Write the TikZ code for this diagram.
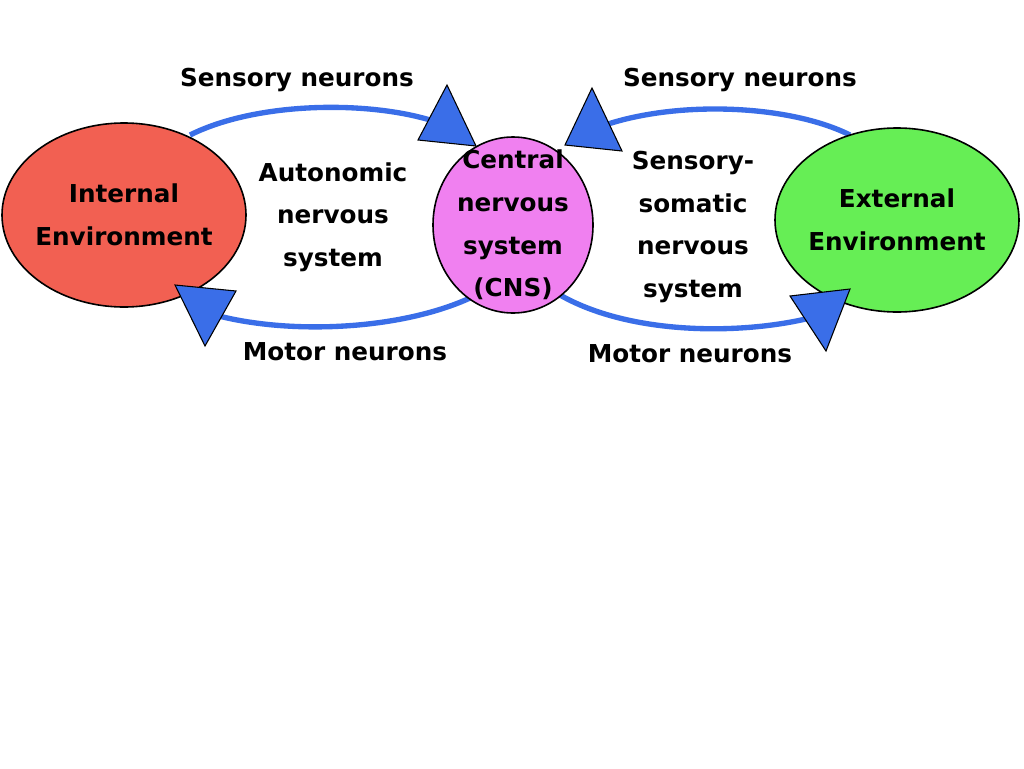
\documentclass[tikz,border=0pt]{standalone}
\usepackage{fontspec}
\setmainfont{DejaVu Sans}
\usetikzlibrary{shapes.geometric}
\definecolor{ired}{HTML}{F26052}
\definecolor{cpink}{HTML}{F080F0}
\definecolor{egreen}{HTML}{66EE55}
\definecolor{arcblue}{HTML}{3A6EE8}
\begin{document}
\begin{tikzpicture}[x=0.75pt,y=-0.75pt,
  env/.style={ellipse,draw=black,line width=1.2pt,inner sep=0pt},
  lbl/.style={align=center,font=\bfseries\fontsize{18.5}{32}\selectfont},
  arc/.style={draw=arcblue,line width=4pt},
  tri/.style={fill=arcblue,draw=black,line width=0.8pt}]
\useasboundingbox[fill=white] (0,0) rectangle (1024,768);
% arcs
\draw[arc] (190,135) .. controls (260,100) and (380,100) .. (445,125);
\draw[arc] (215,315) .. controls (290,335) and (400,330) .. (470,298);
\draw[arc] (605,125) .. controls (680,100) and (790,105) .. (850,135);
\draw[arc] (560,295) .. controls (630,335) and (740,335) .. (810,318);
\node[env,fill=ired,minimum width=183pt,minimum height=138pt] (int) at (124,215) {};
\node[env,fill=cpink,minimum width=120pt,minimum height=132pt] (cns) at (513,225) {};
\node[env,fill=egreen,minimum width=183pt,minimum height=138pt] (ext) at (897,220) {};
\node[lbl] (intt) at (int.center) {Internal\\Environment};
\node[lbl] (cnst) at (cns.center) {Central\\nervous\\system\\(CNS)};
\node[lbl] (extt) at (ext.center) {External\\Environment};
% triangles
\draw[tri] (447,85) -- (476,146) -- (418,140) -- cycle;
\draw[tri] (175,285) -- (236,291) -- (205,346) -- cycle;
\draw[tri] (592,88) -- (565,145) -- (622,151) -- cycle;
\draw[tri] (790,296) -- (850,289) -- (826,351) -- cycle;
\node[lbl] (s1) at (297,80) {Sensory neurons};
\node[lbl] (s2) at (740,80) {Sensory neurons};
\node[lbl] (m1) at (345,352) {Motor neurons};
\node[lbl] (m2) at (690,354) {Motor neurons};
\node[lbl] (ans) at (333,217) {Autonomic\\nervous\\system};
\node[lbl] (sns) at (693,227) {Sensory-\\somatic\\nervous\\system};
\end{tikzpicture}
\end{document}
